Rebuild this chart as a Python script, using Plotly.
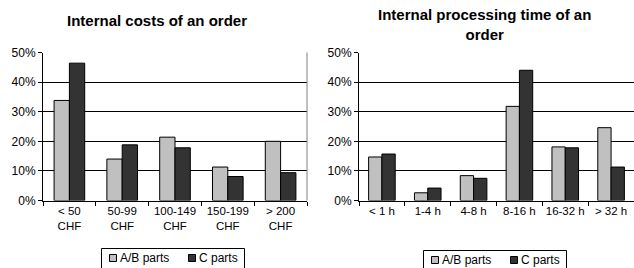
import plotly.graph_objects as go

cost_categories = ["< 50<br>CHF", "50-99<br>CHF", "100-149<br>CHF", "150-199<br>CHF", "> 200<br>CHF"]
cost_ab = [33.8, 14.0, 21.4, 11.3, 20.0]
cost_c = [46.4, 18.8, 17.8, 8.1, 9.4]

time_categories = ["< 1 h", "1-4 h", "4-8 h", "8-16 h", "16-32 h", "> 32 h"]
time_ab = [14.7, 2.6, 8.4, 31.8, 18.1, 24.6]
time_c = [15.7, 4.2, 7.5, 44.0, 17.8, 11.3]

series_names = ["A/B parts", "C parts"]
y_ticks = [0, 10, 20, 30, 40, 50]

W, H = 634, 268
FONT = "Liberation Sans, Arial, sans-serif"
AB_COLOR = "#c0c0c0"
C_COLOR = "#333333"
colors = [AB_COLOR, C_COLOR]

fig = go.Figure()
for cats, vals_list, xa, ya in [(cost_categories, [cost_ab, cost_c], "x", "y"),
                                (time_categories, [time_ab, time_c], "x2", "y2")]:
    for name, vals, col in zip(series_names, vals_list, colors):
        fig.add_trace(go.Bar(x=cats, y=vals, name=name, showlegend=False,
                             marker=dict(color=col, line=dict(color="black", width=1)),
                             xaxis=xa, yaxis=ya))

ydom = [1 - 200.5 / H, 1 - 52.5 / H]

def xax(domain, anchor):
    return dict(domain=domain, anchor=anchor, type="category", showgrid=False,
                showline=True, linecolor="black", linewidth=1, tickangle=0,
                ticks="outside", tickson="boundaries", ticklen=4, tickcolor="black",
                tickfont=dict(family=FONT, size=11.5, color="black"), fixedrange=True,
                automargin=False)

def yax(domain, anchor):
    return dict(domain=domain, anchor=anchor, range=[0, 50], tickvals=y_ticks,
                ticktext=[f"{v}%" for v in y_ticks], showgrid=True, gridcolor="black",
                gridwidth=1, zeroline=False, showline=True, linecolor="black", linewidth=1,
                ticks="outside", ticklen=4, tickcolor="black",
                tickfont=dict(family=FONT, size=12, color="black"), fixedrange=True,
                automargin=False)

fig.update_layout(
    width=W, height=H, margin=dict(l=0, r=0, t=0, b=0, autoexpand=False),
    paper_bgcolor="white", plot_bgcolor="white",
    barmode="group", bargap=0.42, bargroupgap=0,
    xaxis=xax([43 / W, 307 / W], "y"),
    yaxis=yax(ydom, "x"),
    xaxis2=xax([359 / W, 1.0], "y2"),
    yaxis2=yax(ydom, "x2"),
    showlegend=False,
)

fig.add_annotation(text="<b>Internal costs of an order</b>", x=157 / W, y=1 - 20 / H,
                   xref="paper", yref="paper", showarrow=False, xanchor="center", yanchor="middle",
                   font=dict(family=FONT, size=15, color="black"))
fig.add_annotation(text="<b>Internal processing time of an<br>order</b>", x=484 / W, y=1 - 24 / H,
                   xref="paper", yref="paper", showarrow=False, xanchor="center", yanchor="middle",
                   font=dict(family=FONT, size=15, color="black"))
# gray right border of left plot area
fig.add_shape(type="line", xref="paper", yref="paper", x0=307 / W, x1=307 / W,
              y0=ydom[0], y1=ydom[1], line=dict(color="#808080", width=1))


def legend_box(left, top):
    """Boxed legend (pixel coordinates) under a chart."""
    def px(x):
        return x / W

    def py(y):
        return 1 - y / H

    fig.add_shape(type="rect", xref="paper", yref="paper", x0=px(left), x1=px(left + 143),
                  y0=py(H + 2), y1=py(top), line=dict(color="black", width=1), fillcolor="white")
    for i, (name, col) in enumerate(zip(series_names, colors)):
        sx = left + 8 + i * 79
        fig.add_shape(type="rect", xref="paper", yref="paper", x0=px(sx), x1=px(sx + 7),
                      y0=py(top + 13), y1=py(top + 6), line=dict(color="black", width=1),
                      fillcolor=col)
        fig.add_annotation(text=name, x=px(sx + 9), y=py(top + 9.5), xref="paper", yref="paper",
                           showarrow=False, xanchor="left", yanchor="middle", borderpad=0,
                           font=dict(family=FONT, size=12, color="black"))


legend_box(101.5, 248.5)
legend_box(423.5, 250.5)

fig.write_html("out.html", config={"displayModeBar": False, "staticPlot": True},
               post_script="document.body.style.margin='0';document.body.style.overflow='hidden';")
